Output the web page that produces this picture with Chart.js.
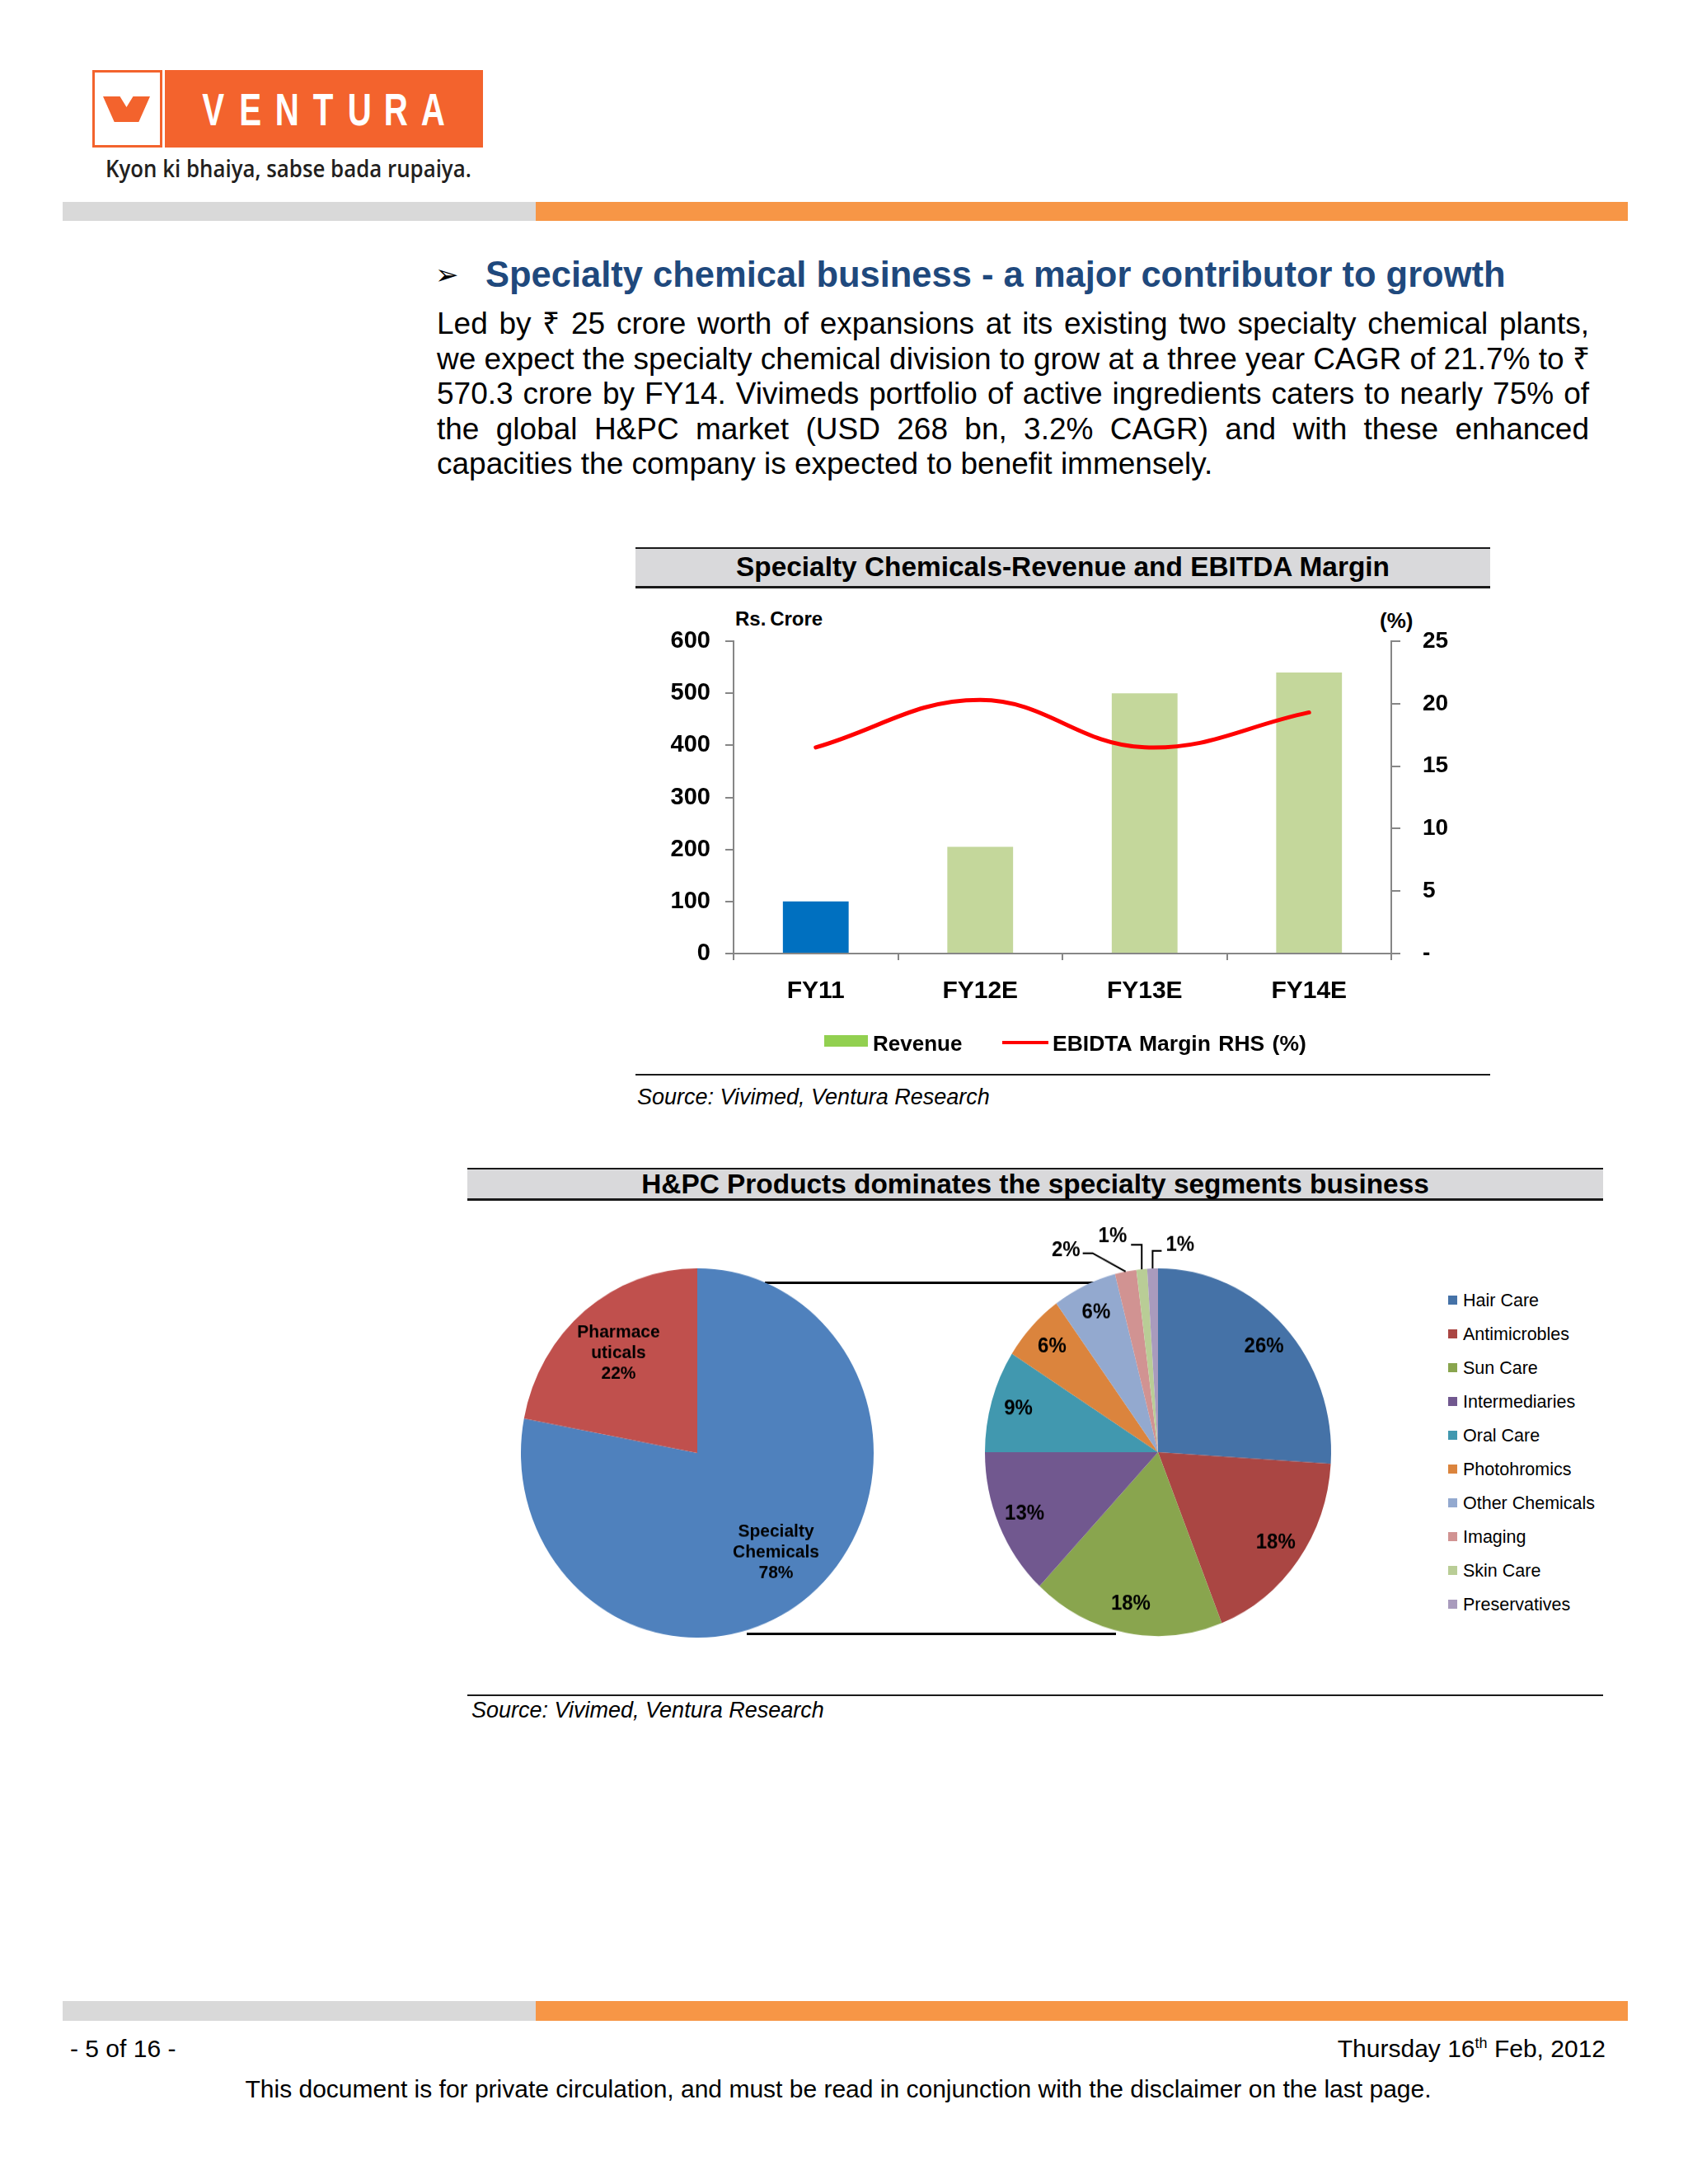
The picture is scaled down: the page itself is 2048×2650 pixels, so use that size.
<!DOCTYPE html>
<html><head><meta charset="utf-8">
<script src="https://cdn.jsdelivr.net/npm/chart.js@4.4.0/dist/chart.umd.min.js"></script>
<style>
html,body{margin:0;padding:0;background:#fff;}
body{width:2048px;height:2650px;position:relative;overflow:hidden;font-family:"Liberation Sans",Arial,sans-serif;color:#000;}
.abs{position:absolute;white-space:nowrap;}
.bar{position:absolute;height:23px;}
.para{position:absolute;left:530px;width:1398px;font-size:37px;line-height:42px;height:42px;white-space:nowrap;text-align:justify;text-align-last:justify;}
.para.last{text-align-last:left;}
.vl{display:inline-block;width:44.3px;text-align:center;}
.vl span{display:inline-block;transform:scaleX(0.72);}
.leg{position:absolute;left:1757px;font-size:21.5px;line-height:30px;height:30px;white-space:nowrap;}
.leg i{position:absolute;left:0;top:9px;width:11px;height:11px;}
.leg span{position:absolute;left:18px;top:0;}
</style></head><body>

<!-- logo -->
<div class="abs" style="left:112px;top:85px;width:85px;height:94px;box-sizing:border-box;border:3px solid #F3632D;background:#fff"></div>
<div class="abs" style="left:125px;top:117px;width:57px;height:31px;background:#F3632D;clip-path:polygon(0 0,36% 0,50% 42%,64% 0,100% 0,76% 100%,24% 100%)"></div>
<div class="abs" style="left:200px;top:85px;width:386px;height:94px;background:#F3632D"></div>
<div class="abs" style="left:237px;top:105px;font-size:56px;line-height:56px;font-weight:bold;color:#fff"><span class="vl"><span>V</span></span><span class="vl"><span>E</span></span><span class="vl"><span>N</span></span><span class="vl"><span>T</span></span><span class="vl"><span>U</span></span><span class="vl"><span>R</span></span><span class="vl"><span>A</span></span></div>
<div id="tag" class="abs" style="left:128px;top:187px;font-family:'Open Sans',sans-serif;font-weight:600;font-size:28px;line-height:34px;color:#231F20">Kyon ki bhaiya, sabse bada rupaiya.</div>

<!-- top bar -->
<div class="bar" style="left:76px;top:245px;width:574px;background:#D9D9D9"></div>
<div class="bar" style="left:650px;top:245px;width:1325px;background:#F79646"></div>

<!-- heading -->
<div class="abs" style="left:528px;top:313px;font-family:'DejaVu Sans',sans-serif;font-size:34px;line-height:40px">➢</div>
<div id="head" class="abs" style="left:589px;top:308px;font-size:43.5px;line-height:50px;font-weight:bold;color:#1F497D">Specialty chemical business - a major contributor to growth</div>

<div class="para" style="top:372px">Led by ₹ 25 crore worth of expansions at its existing two specialty chemical plants,</div>
<div class="para" style="top:414.6px">we expect the specialty chemical division to grow at a three year CAGR of 21.7% to ₹</div>
<div class="para" style="top:457.2px">570.3 crore by FY14. Vivimeds portfolio of active ingredients caters to nearly 75% of</div>
<div class="para" style="top:499.8px">the global H&amp;PC market (USD 268 bn, 3.2% CAGR) and with these enhanced</div>
<div class="para last" style="top:542.4px">capacities the company is expected to benefit immensely.</div>

<!-- chart 1 frame -->
<div class="abs" style="left:771px;top:664px;width:1037px;height:50px;box-sizing:border-box;background:#D9D9DB;border-top:2px solid #1a1a1a;border-bottom:3px solid #1a1a1a"></div>
<div class="abs" style="left:771px;top:668px;width:1037px;text-align:center;font-size:33.4px;line-height:40px;font-weight:bold">Specialty Chemicals-Revenue and EBITDA Margin</div>
<div class="abs" style="left:892px;top:737px;font-size:24px;line-height:28px;font-weight:bold">Rs.&thinsp;Crore</div>
<div class="abs" style="left:1674px;top:738px;font-size:26px;line-height:30px;font-weight:bold">(%)</div>
<canvas id="barChart" width="1038" height="591" style="position:absolute;left:771px;top:714px"></canvas>
<div class="abs" style="left:1000px;top:1256px;width:53px;height:14px;background:#92D050"></div>
<div class="abs" style="left:1059px;top:1251px;font-size:26px;line-height:30px;font-weight:bold">Revenue</div>
<div class="abs" style="left:1216px;top:1263px;width:56px;height:4px;background:#FF0000"></div>
<div class="abs" style="left:1277px;top:1251px;font-size:26.5px;line-height:30px;font-weight:bold;word-spacing:2px">EBIDTA Margin RHS (%)</div>
<div class="abs" style="left:771px;top:1303px;width:1037px;height:2px;background:#1a1a1a"></div>
<div class="abs" style="left:773px;top:1315px;font-size:27px;line-height:32px;font-style:italic">Source: Vivimed, Ventura Research</div>

<!-- chart 2 frame -->
<div class="abs" style="left:567px;top:1417px;width:1378px;height:40px;box-sizing:border-box;background:#D9D9DB;border-top:2px solid #1a1a1a;border-bottom:3px solid #1a1a1a"></div>
<div class="abs" style="left:567px;top:1418px;width:1378px;text-align:center;font-size:33.4px;line-height:38px;font-weight:bold">H&amp;PC Products dominates the specialty segments business</div>
<div class="abs" style="left:928px;top:1555px;width:400px;height:3px;background:#000"></div>
<div class="abs" style="left:906px;top:1981px;width:448px;height:3px;background:#000"></div>
<canvas id="pieLeft" width="428" height="428" style="position:absolute;left:632px;top:1549px;transform:scaleY(1.047);transform-origin:50% 50%"></canvas>
<canvas id="pieRight" width="600" height="600" style="position:absolute;left:1105px;top:1462px;transform:scaleY(1.062);transform-origin:50% 50%"></canvas>
<div id="legend2"></div>
<div class="abs" style="left:567px;top:2056px;width:1378px;height:2px;background:#1a1a1a"></div>
<div class="abs" style="left:572px;top:2059px;font-size:27px;line-height:32px;font-style:italic">Source: Vivimed, Ventura Research</div>

<!-- footer -->
<div class="bar" style="left:76px;top:2428px;width:574px;height:24px;background:#D9D9D9"></div>
<div class="bar" style="left:650px;top:2428px;width:1325px;height:24px;background:#F79646"></div>
<div class="abs" style="left:85px;top:2469px;font-size:30px;line-height:34px">- 5 of 16 -</div>
<div class="abs" style="right:100px;top:2469px;font-size:30px;line-height:34px">Thursday 16<sup style="font-size:18px;line-height:0">th</sup> Feb, 2012</div>
<div class="abs" style="left:0;width:2034px;text-align:center;top:2518px;font-size:30px;line-height:34px">This document is for private circulation, and must be read in conjunction with the disclaimer on the last page.</div>

<script>
// ---------- data ----------
const categories = ['FY11', 'FY12E', 'FY13E', 'FY14E'];
const revenue = [100, 205, 500, 540];
const ebitdaMargin = [16.5, 20.3, 16.5, 19.3];
const revenueColors = ['#0070C0', '#C4D79B', '#C4D79B', '#C4D79B'];
const revenueTicks = [0, 100, 200, 300, 400, 500, 600];
const marginTicks = [0, 5, 10, 15, 20, 25];

const splitLabels = ['Specialty Chemicals', 'Pharmaceuticals'];
const splitLabelLines = [['Specialty', 'Chemicals'], ['Pharmace', 'uticals']];
const splitShares = [78, 22];
const splitColors = ['#4F81BD', '#C0504D'];

const segmentLabels = ['Hair Care', 'Antimicrobles', 'Sun Care', 'Intermediaries', 'Oral Care', 'Photohromics', 'Other Chemicals', 'Imaging', 'Skin Care', 'Preservatives'];
const segmentShares = [26, 18, 18, 13, 9, 6, 6, 2, 1, 1];
const segmentColors = ['#4572A7', '#AA4643', '#89A54E', '#71588F', '#4198AF', '#DB843D', '#93A9CF', '#D19392', '#B9CD96', '#A99BBD'];

// ---------- text fitting ----------
function fitWidth(el, w) {
  const nat = el.scrollWidth;
  el.style.transformOrigin = '0 50%';
  el.style.transform = 'scaleX(' + (w / nat) + ')';
}
fitWidth(document.getElementById('tag'), 444);
document.querySelectorAll('.para').forEach(p => {
  if (p.scrollWidth > p.clientWidth + 1) {
    p.style.transformOrigin = '0 50%';
    p.style.transform = 'scaleX(' + (p.clientWidth / p.scrollWidth) + ')';
  }
});

// legend for segments
const lg = document.getElementById('legend2');
segmentLabels.forEach((name, i) => {
  const d = document.createElement('div');
  d.className = 'leg';
  d.style.top = (1563 + i * 41) + 'px';
  d.innerHTML = '<i style="background:' + segmentColors[i] + '"></i><span>' + name + '</span>';
  lg.appendChild(d);
});

const FONT = '"Liberation Sans", Arial, sans-serif';
Chart.defaults.font.family = FONT;

// ---------- bar + line ----------
new Chart(document.getElementById('barChart'), {
  type: 'bar',
  data: {
    labels: categories,
    datasets: [
      { type: 'line', label: 'EBIDTA Margin RHS (%)', data: ebitdaMargin, yAxisID: 'y1',
        borderColor: '#FF0000', borderWidth: 5, tension: 0.4, pointRadius: 0, fill: false,
        borderCapStyle: 'round', order: 0 },
      { type: 'bar', label: 'Revenue', data: revenue, yAxisID: 'y', backgroundColor: revenueColors,
        barPercentage: 0.4, categoryPercentage: 1, order: 1 }
    ]
  },
  options: {
    responsive: false, animation: false,
    layout: { padding: { top: 64, left: 0, right: 0, bottom: 0 }, autoPadding: false },
    plugins: { legend: { display: false }, tooltip: { enabled: false } },
    scales: {
      x: {
        offset: true,
        grid: { offset: true, drawOnChartArea: false, drawTicks: true, tickLength: 8, color: '#868686', lineWidth: 2 },
        border: { color: '#868686', width: 2 },
        ticks: { color: '#000', font: { size: 30, weight: 'bold' }, padding: 20 },
        afterFit(s) { s.height = 148; }
      },
      y: {
        position: 'left', min: revenueTicks[0], max: revenueTicks[revenueTicks.length - 1],
        afterBuildTicks(s) { s.ticks = revenueTicks.map(v => ({ value: v })); },
        grid: { drawOnChartArea: false, tickLength: 10, color: '#868686', lineWidth: 2 },
        border: { color: '#868686', width: 2 },
        ticks: { color: '#000', font: { size: 29, weight: 'bold' }, padding: 18 },
        afterFit(s) { s.width = 119; }
      },
      y1: {
        position: 'right', min: marginTicks[0], max: marginTicks[marginTicks.length - 1],
        afterBuildTicks(s) { s.ticks = marginTicks.map(v => ({ value: v })); },
        grid: { drawOnChartArea: false, tickLength: 11, color: '#868686', lineWidth: 2 },
        border: { color: '#868686', width: 2 },
        ticks: { color: '#000', font: { size: 28, weight: 'bold' }, padding: 27,
                 callback: v => (v === 0 ? '-' : String(v)) },
        afterFit(s) { s.width = 121; }
      }
    }
  }
});

// ---------- pie labels plugin ----------
const smallLayouts = [
  { ex: -40, ey: -21, hx: -12, tx: -15, ty: -3, align: 'right' },
  { ex: 0, ey: -28, hx: -13, tx: -18, ty: -10, align: 'right' },
  { ex: 0, ey: -20, hx: 11, tx: 16, ty: -7, align: 'left' }
];
const pieLabels = {
  id: 'pieLabels',
  afterDatasetsDraw(chart, args, opts) {
    const ctx = chart.ctx;
    const meta = chart.getDatasetMeta(0);
    const values = chart.data.datasets[0].data;
    let smallRank = 0;
    meta.data.forEach((arc, i) => {
      const p = arc.getProps(['x', 'y', 'startAngle', 'endAngle', 'outerRadius'], true);
      const mid = (p.startAngle + p.endAngle) / 2;
      const c = Math.cos(mid), s = Math.sin(mid);
      const pct = values[i] + '%';
      ctx.save();
      ctx.fillStyle = '#000';
      ctx.strokeStyle = '#000';
      ctx.font = 'bold ' + opts.size + 'px ' + FONT;
      ctx.textBaseline = 'middle';
      if (opts.outsideBelow && values[i] < opts.outsideBelow) {
        const L = smallLayouts[smallRank++];
        const ex = p.x + p.outerRadius * c, ey = p.y + p.outerRadius * s;
        const bx = ex + L.ex, by = ey + L.ey;
        ctx.lineWidth = 2;
        ctx.beginPath();
        ctx.moveTo(ex, ey); ctx.lineTo(bx, by); ctx.lineTo(bx + L.hx, by);
        ctx.stroke();
        ctx.textAlign = L.align;
        ctx.fillText(pct, bx + L.tx, by + L.ty);
      } else {
        const r = p.outerRadius * opts.factor;
        const cx = p.x + r * c, cy = p.y + r * s;
        const lines = opts.lines ? opts.lines[i].concat([pct]) : [pct];
        ctx.textAlign = 'center';
        lines.forEach((t, k) => ctx.fillText(t, cx, cy + (k - (lines.length - 1) / 2) * opts.lh));
      }
      ctx.restore();
    });
  }
};

new Chart(document.getElementById('pieLeft'), {
  type: 'pie',
  data: { labels: splitLabels, datasets: [{ data: splitShares, backgroundColor: splitColors, borderWidth: 0, hoverOffset: 0 }] },
  options: {
    responsive: false, animation: false, rotation: 0,
    layout: { padding: 0 },
    plugins: { legend: { display: false }, tooltip: { enabled: false },
      pieLabels: { size: 21, factor: 0.7, lh: 24, lines: splitLabelLines } }
  },
  plugins: [pieLabels]
});

new Chart(document.getElementById('pieRight'), {
  type: 'pie',
  data: { labels: segmentLabels, datasets: [{ data: segmentShares, backgroundColor: segmentColors, borderWidth: 0, hoverOffset: 0 }] },
  options: {
    responsive: false, animation: false, rotation: 0,
    layout: { padding: 90 },
    plugins: { legend: { display: false }, tooltip: { enabled: false },
      pieLabels: { size: 24, factor: 0.84, lh: 26, outsideBelow: 3 } }
  },
  plugins: [pieLabels]
});
</script>
</body></html>
